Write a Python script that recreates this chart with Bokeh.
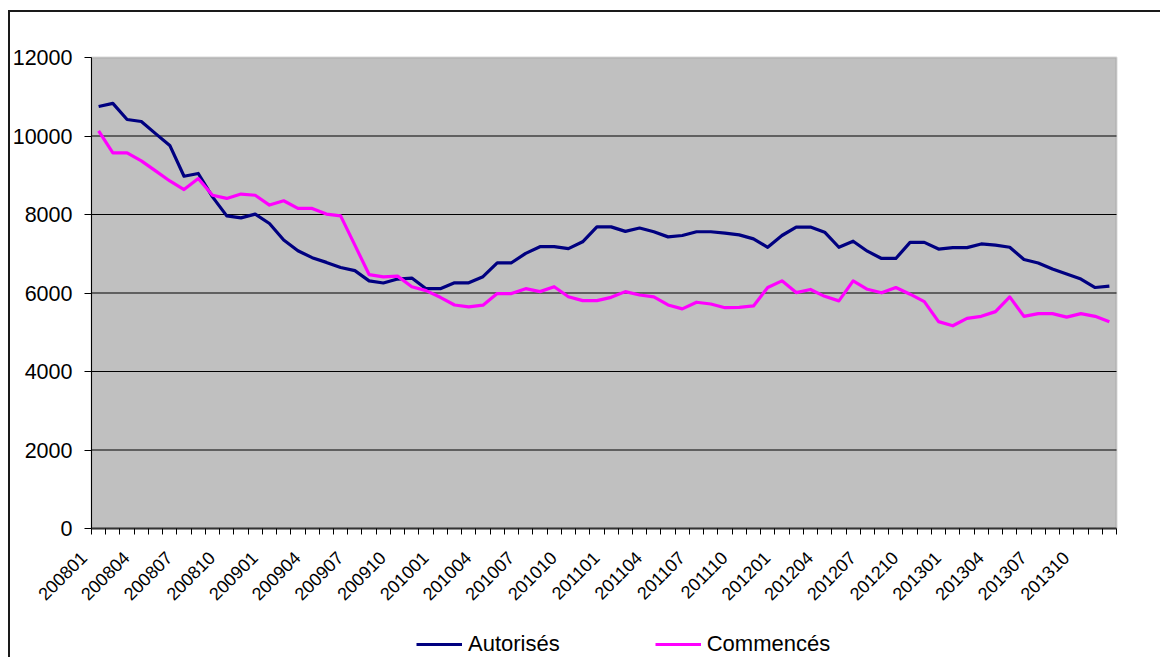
import math
from bokeh.plotting import figure
from bokeh.layouts import column
from bokeh.core.properties import value
from bokeh.models import Range1d, FixedTicker, Legend, LegendItem, BoxAnnotation
from bokeh.embed import file_html
from bokeh.resources import INLINE

months = [f"{y}{m:02d}" for y in range(2008, 2014) for m in range(1, 13)]

autorises = [10750, 10830, 10420, 10370, 10060, 9760, 8975, 9045, 8450, 7965,
             7915, 8010, 7770, 7350, 7075, 6900, 6780, 6650, 6570, 6310,
             6255, 6355, 6380, 6110, 6110, 6260, 6260, 6415, 6770, 6770,
             7010, 7180, 7180, 7130, 7305, 7685, 7685, 7570, 7655, 7560,
             7430, 7465, 7560, 7560, 7525, 7480, 7380, 7165, 7465, 7680,
             7680, 7550, 7165, 7320, 7065, 6880, 6880, 7290, 7290, 7120,
             7155, 7155, 7250, 7220, 7165, 6855, 6765, 6610, 6485, 6355,
             6140, 6175]

commences = [10130, 9570, 9570, 9365, 9110, 8855, 8635, 8915, 8490, 8410,
             8520, 8490, 8240, 8350, 8155, 8155, 8010, 7965, 7220, 6470,
             6410, 6430, 6160, 6060, 5890, 5695, 5645, 5690, 5985, 5985,
             6110, 6035, 6160, 5905, 5805, 5805, 5890, 6035, 5950, 5900,
             5695, 5595, 5765, 5720, 5625, 5635, 5670, 6140, 6310, 6010,
             6090, 5915, 5800, 6310, 6095, 6005, 6140, 5970, 5780, 5270,
             5165, 5355, 5405, 5525, 5900, 5405, 5475, 5475, 5385, 5475,
             5405, 5270]

series_names = ["Autorisés", "Commencés"]
y_ticks = [0, 2000, 4000, 6000, 8000, 10000, 12000]
y_max = 12000

n = len(months)
idx = list(range(n))
label_idx = list(range(0, n, 3))
label_txt = [months[k] for k in label_idx]
x_lo, x_hi = -0.5, n - 0.5
boundaries = [k - 0.5 for k in range(n + 1)]
grid_y = y_ticks[1:-1]
FONT = "Liberation Sans"

# canvas 1150 x 645; grey plot area 1025 x 471 px, placed 81 px from the left
# and 45 px from the top; the rest is the chart's white surround
W, H = 1150, 645
area_w, area_h = 1025, 471
off_l, off_t = 81, 45
cat_px = area_w / n
ppu = area_h / y_max
x_start = x_lo - off_l / cat_px
x_end = x_hi + (W - off_l - area_w) / cat_px
y_end = y_max + off_t / ppu
y_start = -(H - off_t - area_h) / ppu

p = figure(width=W, height=H, output_backend="svg", toolbar_location=None,
           x_range=Range1d(x_start, x_end), y_range=Range1d(y_start, y_end),
           min_border_left=0, min_border_right=0, min_border_top=0,
           min_border_bottom=0,
           background_fill_color="white", border_fill_color="white")
p.outline_line_color = None

# grey plot area with its grey border
plot_area = BoxAnnotation(left=x_lo, right=x_hi, bottom=0, top=y_max,
                          fill_color="#C0C0C0", fill_alpha=1,
                          line_color="#808080", line_width=2, level="image")
p.center = [plot_area] + list(p.center)

p.xgrid.visible = False
p.ygrid.visible = False
p.segment(x0=[x_lo] * len(grid_y), x1=[x_hi] * len(grid_y), y0=grid_y, y1=grid_y,
          line_color="black", line_width=1)

r1 = p.line(idx, autorises, line_color="#000080", line_width=3.2, line_join="round")
r2 = p.line(idx, commences, line_color="#FF00FF", line_width=3.2, line_join="round")

xa = p.xaxis[0]
xa.fixed_location = 0
xa.bounds = (x_lo, x_hi)
xa.ticker = FixedTicker(ticks=boundaries, minor_ticks=[])
xa.major_label_overrides = {b: "" for b in boundaries}
xa.major_tick_out = 6
xa.major_tick_in = 0
xa.minor_tick_out = 0
xa.minor_tick_in = 0
xa.major_tick_line_color = "black"
xa.axis_line_color = "#333333"
xa.axis_line_width = 2

# rotated category labels
p.text(x=label_idx, y=[0] * len(label_idx), text=label_txt, angle=math.pi / 4,
       text_align="right", text_baseline="middle", x_offset=-15, y_offset=26,
       text_font=value(FONT), text_font_size=value("18px"), text_color="black")

ya = p.yaxis[0]
ya.fixed_location = x_lo
ya.bounds = (0, y_max)
ya.ticker = FixedTicker(ticks=y_ticks)
ya.major_tick_out = 7
ya.major_tick_in = 0
ya.minor_tick_out = 0
ya.minor_tick_in = 0
ya.axis_line_color = "black"
ya.major_tick_line_color = "black"
ya.major_label_text_font = FONT
ya.major_label_text_font_size = "21.5px"
ya.major_label_text_color = "black"
ya.major_label_standoff = 12

legend = Legend(items=[LegendItem(label=series_names[0], renderers=[r1]),
                       LegendItem(label=series_names[1], renderers=[r2])],
                orientation="horizontal", location=(off_l + 325, 0),
                label_text_font=FONT, label_text_font_size="22px",
                label_text_color="black",
                glyph_width=46, glyph_height=20, label_standoff=6, spacing=95,
                border_line_color=None, background_fill_alpha=0,
                margin=0, padding=0)
p.add_layout(legend, "center")

layout = column(p, margin=(10, 0, 0, 8),
                styles={"border-top": "2px solid #1a1a1a",
                        "border-left": "2px solid #1a1a1a"})

open("out.html", "w").write(file_html(layout, INLINE))
